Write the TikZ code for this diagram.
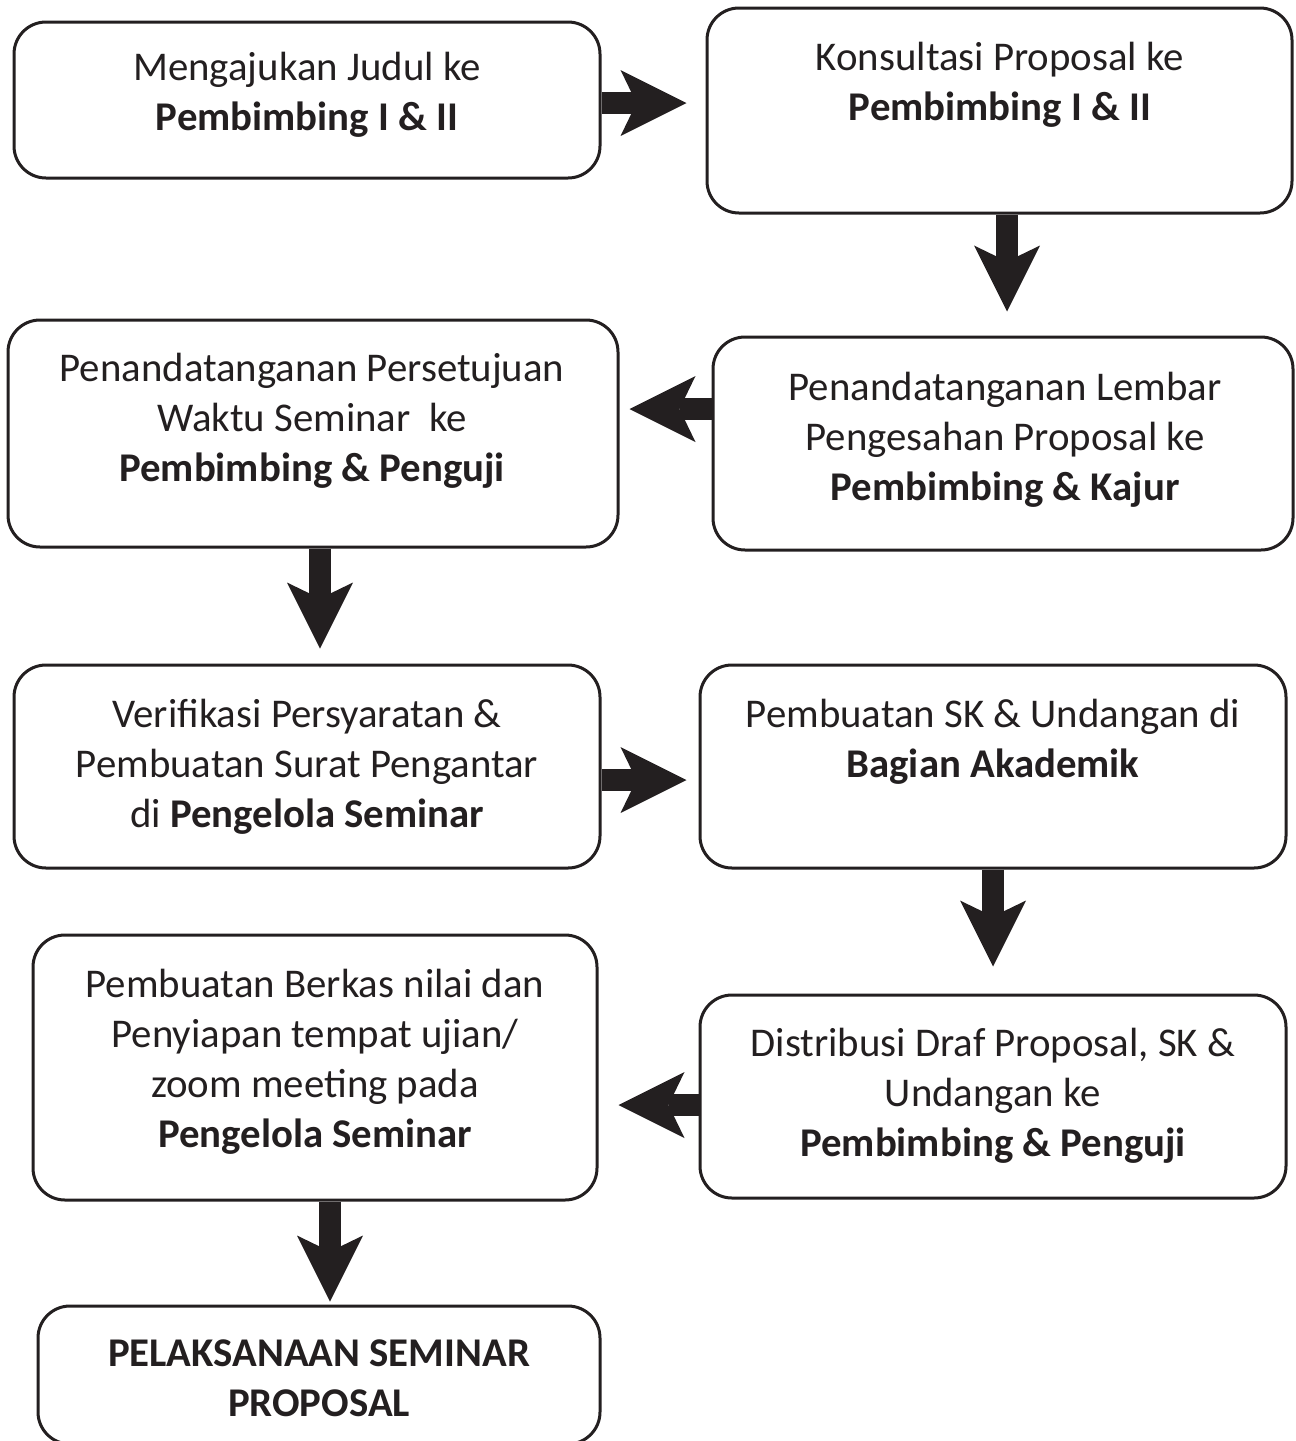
\documentclass[tikz,border=0pt]{standalone}
\usepackage{fontspec}
\setmainfont{Carlito}
\usetikzlibrary{arrows.meta,calc}

\definecolor{tinta}{HTML}{231F20}

\tikzset{
  kotak/.style={draw=tinta, line width=1.5pt, rounded corners=16pt, fill=white},
  teks/.style={align=center, text=tinta, font=\fontsize{20.4pt}{25pt}\selectfont},
  panah/.style={tinta, line width=11pt,
    -{Stealth[length=33pt, width=33pt, inset=8pt, line width=0pt]}}
}

\begin{document}
\begin{tikzpicture}[x=0.5pt, y=-0.5pt]

\useasboundingbox (0,0) rectangle (1296,1441);

% Boxes (left column / right column)
\node[kotak, minimum width=293pt, minimum height=78pt]    (judul)      at (307,100)    {};
\node[kotak, minimum width=292.5pt, minimum height=102.5pt] (kons)     at (999.5,110.5) {};
\node[kotak, minimum width=290pt, minimum height=106.5pt] (lembar)     at (1003,443.5) {};
\node[kotak, minimum width=305pt, minimum height=113.5pt] (setuju)     at (313,433.5)  {};
\node[kotak, minimum width=293pt, minimum height=101.5pt] (verif)      at (307,766.5)  {};
\node[kotak, minimum width=293pt, minimum height=101.5pt] (sk)         at (993,766.5)  {};
\node[kotak, minimum width=293pt, minimum height=101.5pt] (distribusi) at (993,1096.5) {};
\node[kotak, minimum width=282pt, minimum height=132.5pt] (berkas)     at (315,1067.5) {};
\node[kotak, minimum width=281pt, minimum height=69pt]    (seminar)    at (319,1375)   {};

% Texts
\node[teks] (tjudul) at (307,95) {Mengajukan Judul ke\\\textbf{Pembimbing I \& II}};
\node[teks] (tkons) at (1000,85) {Konsultasi Proposal ke\\\textbf{Pembimbing I \& II}};
\node[teks] (tlembar) at (1005,440) {Penandatanganan Lembar\\Pengesahan Proposal ke\\\textbf{Pembimbing \& Kajur}};
\node[teks] (tsetuju) at (312,421) {Penandatanganan Persetujuan\\Waktu Seminar~\ ke\\\textbf{Pembimbing \& Penguji}};
\node[teks] (tverif) at (307,767) {Verifikasi Persyaratan \&\\Pembuatan Surat Pengantar\\di \textbf{Pengelola Seminar}};
\node[teks] (tsk) at (993,742) {Pembuatan SK \& Undangan di\\\textbf{Bagian Akademik}};
\node[teks] (tdistribusi) at (993,1096) {Distribusi Draf Proposal, SK \&\\Undangan ke\\\textbf{Pembimbing \& Penguji}};
\node[teks] (tberkas) at (315,1062) {Pembuatan Berkas nilai dan\\Penyiapan tempat ujian/\\zoom meeting pada\\\textbf{Pengelola Seminar}};
\node[teks] (tseminar) at (319,1378) {\textbf{PELAKSANAAN SEMINAR}\\\textbf{PROPOSAL}};

% Arrows
\draw[panah, shorten >=9.5pt] ($(judul.east)+(0,3)$) -- ($(judul.east -| kons.west)+(0,3)$);
\draw[panah, shorten >=12pt] ($(kons.south)+(7.5,0)$) -- ($(kons.south |- lembar.north)+(7.5,0)$);
\draw[panah, shorten >=5pt] ($(lembar.west)+(0,-34.5)$) -- ($(lembar.west -| setuju.east)+(0,-34.5)$);
\draw[panah, shorten >=7.5pt] ($(setuju.south)+(7,0)$) -- ($(setuju.south |- verif.north)+(7,0)$);
\draw[panah, shorten >=6pt] ($(verif.east)+(0,13.5)$) -- ($(verif.east -| sk.west)+(0,13.5)$);
\draw[panah, shorten >=13.5pt] (sk.south) -- (sk.south |- distribusi.north);
\draw[panah, shorten >=10pt] ($(distribusi.west)+(0,8.5)$) -- ($(distribusi.west -| berkas.east)+(0,8.5)$);
\draw[panah, shorten >=1.5pt] ($(berkas.south)+(15,0)$) -- ($(berkas.south |- seminar.north)+(15,0)$);

\end{tikzpicture}
\end{document}
